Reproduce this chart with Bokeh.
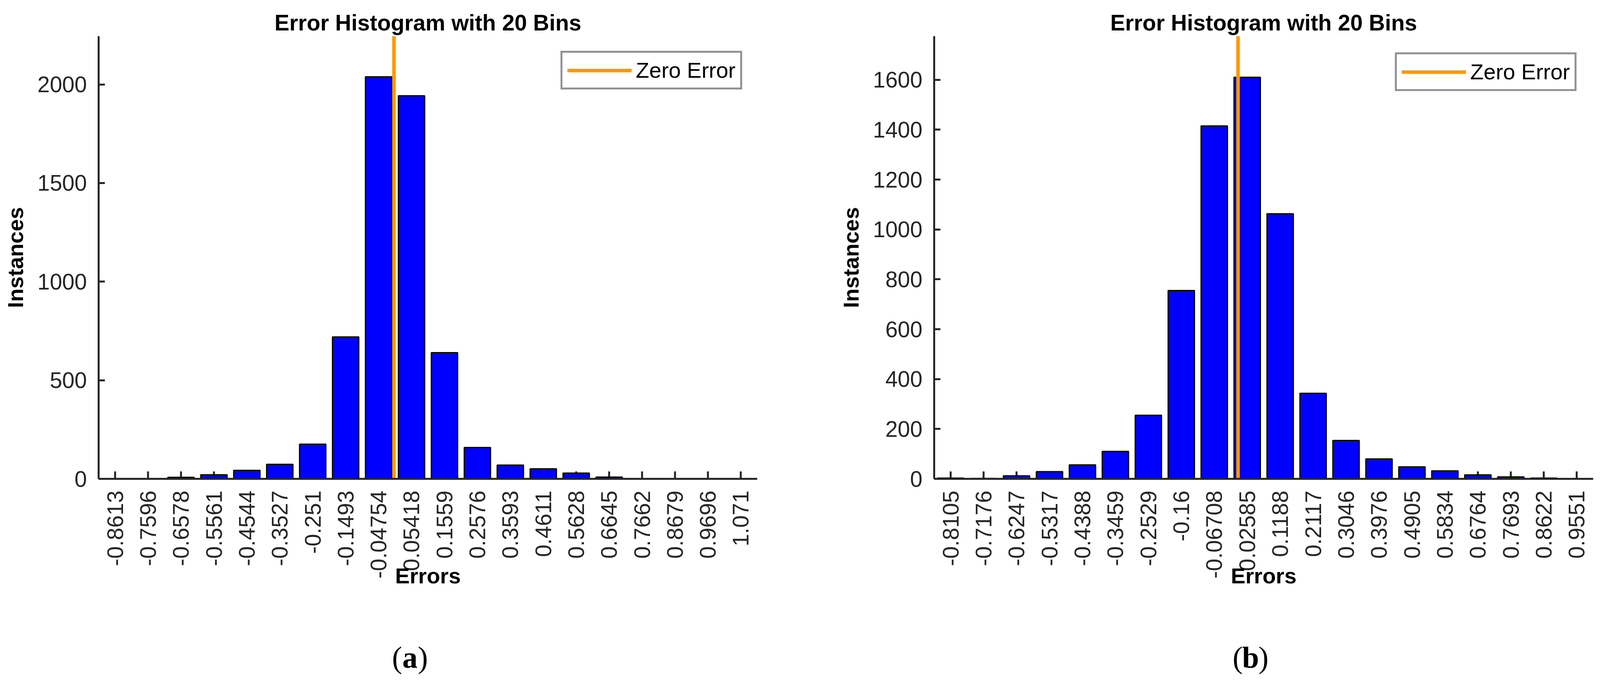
import math
from bokeh.plotting import figure
from bokeh.models import FixedTicker, Range1d, Legend, LegendItem
from bokeh.core.properties import value
from bokeh.layouts import row, column
from bokeh.embed import file_html
from bokeh.resources import INLINE

# ---------------- data ----------------
title_text = "Error Histogram with 20 Bins"
x_label = "Errors"
y_label = "Instances"
legend_label = "Zero Error"
captions = ["a", "b"]

left_bins = ["-0.8613", "-0.7596", "-0.6578", "-0.5561", "-0.4544", "-0.3527", "-0.251",
             "-0.1493", "-0.04754", "0.05418", "0.1559", "0.2576", "0.3593", "0.4611",
             "0.5628", "0.6645", "0.7662", "0.8679", "0.9696", "1.071"]
left_counts = [2, 2, 8, 21, 43, 74, 176, 720, 2039, 1943, 640, 159, 70, 51, 29, 9, 2, 1, 1, 0]
left_yticks = [0, 500, 1000, 1500, 2000]
left_ymax = 2245

right_bins = ["-0.8105", "-0.7176", "-0.6247", "-0.5317", "-0.4388", "-0.3459", "-0.2529",
              "-0.16", "-0.06708", "0.02585", "0.1188", "0.2117", "0.3046", "0.3976",
              "0.4905", "0.5834", "0.6764", "0.7693", "0.8622", "0.9551"]
right_counts = [3, 2, 12, 29, 56, 110, 255, 755, 1415, 1610, 1063, 343, 154, 80, 48, 32, 16, 8, 3, 1]
right_yticks = [0, 200, 400, 600, 800, 1000, 1200, 1400, 1600]
right_ymax = 1775

zero_error = 0.0

AX = "#262626"
SANS = "Liberation Sans"
SERIF = "Liberation Serif"

FIG_H = 1525
B_TOP = 92
B_BOTTOM = 300
FRAME_H = FIG_H - B_TOP - B_BOTTOM
CAP_H = 205


def panel(bins, counts, yticks, ymax, width, border_left, border_right, leg_margin):
    centers = [float(s) for s in bins]
    w = (centers[-1] - centers[0]) / (len(centers) - 1)
    x0, x1 = centers[0] - w / 2, centers[-1] + w / 2
    p = figure(width=width, height=FIG_H, output_backend="svg", toolbar_location=None,
               x_range=Range1d(x0, x1), y_range=Range1d(0, ymax),
               min_border_left=border_left, min_border_right=border_right,
               min_border_top=B_TOP, min_border_bottom=B_BOTTOM, title=title_text)
    p.outline_line_color = None
    p.grid.visible = False
    p.background_fill_color = "white"
    p.border_fill_color = "white"

    p.title.text_font = SANS
    p.title.text_font_size = "57px"
    p.title.text_font_style = "bold"
    p.title.text_color = "black"
    p.title.align = "center"
    p.title.standoff = 6

    # inward x tick marks drawn beneath the bars
    tick_len = 19 * ymax / FRAME_H
    p.segment(x0=centers, y0=[0] * len(centers), x1=centers, y1=[tick_len] * len(centers),
              line_color=AX, line_width=5, level="underlay")

    p.vbar(x=centers, top=counts, bottom=0, width=0.8 * w,
           fill_color="#0000FF", line_color="black", line_width=3)
    zl = p.line(x=[zero_error, zero_error], y=[0, ymax], line_color="#FF9900", line_width=9)

    xa = p.xaxis[0]
    xa.ticker = FixedTicker(ticks=centers)
    xa.major_label_overrides = {c: s for c, s in zip(centers, bins)}
    xa.major_label_orientation = math.pi / 2
    xa.axis_label = x_label
    xa.axis_label_standoff = -42

    ya = p.yaxis[0]
    ya.ticker = FixedTicker(ticks=yticks)
    ya.axis_label = y_label
    ya.axis_label_standoff = 22

    for ax, tin in ((xa, 0), (ya, 16)):
        ax.axis_line_color = AX
        ax.axis_line_width = 5
        ax.major_tick_line_color = AX
        ax.major_tick_line_width = 5
        ax.major_tick_in = tin
        ax.major_tick_out = 0
        ax.minor_tick_line_color = None
        ax.major_label_text_font = SANS
        ax.major_label_text_font_size = "57px"
        ax.major_label_text_color = AX
        ax.major_label_standoff = 30
        ax.axis_label_text_font = SANS
        ax.axis_label_text_font_size = "56px"
        ax.axis_label_text_font_style = "bold"
        ax.axis_label_text_color = "black"

    leg = Legend(items=[LegendItem(label=legend_label, renderers=[zl])],
                 location="top_right", margin=leg_margin, padding=12, spacing=0,
                 glyph_width=165, glyph_height=40, label_standoff=11,
                 label_text_font=SANS, label_text_font_size="56px", label_text_color="black",
                 border_line_color=AX, border_line_width=5, background_fill_color="white",
                 background_fill_alpha=1.0)
    p.add_layout(leg)
    return p


def caption_fig(letter, width, cx):
    c = figure(width=width, height=CAP_H, output_backend="svg", toolbar_location=None,
               x_range=Range1d(0, width), y_range=Range1d(0, CAP_H),
               x_axis_location=None, y_axis_location=None, min_border=0)
    c.outline_line_color = None
    c.grid.visible = False
    cy = 48
    common = dict(text_font=value(SERIF), text_font_size="78px",
                  text_baseline="middle", text_color="black")
    c.text(x=[cx - 20], y=[cy], text=["("], text_align="right", **common)
    c.text(x=[cx], y=[cy], text=[letter], text_align="center", text_font_style="bold", **common)
    c.text(x=[cx + 20], y=[cy], text=[")"], text_align="left", **common)
    return c


W1, W2 = 2040, 2066
p1 = panel(left_bins, left_counts, left_yticks, left_ymax, W1, 252, 102, 38)
p2 = panel(right_bins, right_counts, right_yticks, right_ymax, W2, 351, 28, 42)
c1 = caption_fig(captions[0], W1, 1049)
c2 = caption_fig(captions[1], W2, 1161)

layout = column(row(p1, p2), row(c1, c2))
open("out.html", "w").write(file_html(layout, INLINE))
